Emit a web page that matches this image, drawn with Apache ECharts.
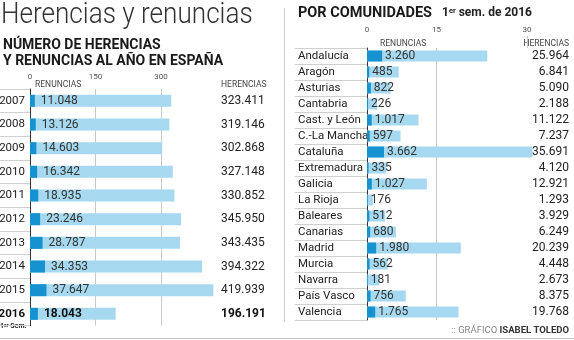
<!DOCTYPE html>
<html>
<head>
<meta charset="utf-8">
<script src="https://cdn.jsdelivr.net/npm/echarts@6/dist/echarts.min.js"></script>
<style>
  html, body { margin: 0; padding: 0; background: #fff; }
  #chart { width: 574px; height: 340px; }
</style>
</head>
<body>
<div id="chart"></div>
<script>
// Yearly totals for Spain
const years = ['2007', '2008', '2009', '2010', '2011', '2012', '2013', '2014', '2015', '2016'];
const renunciasYear = [11048, 13126, 14603, 16342, 18935, 23246, 28787, 34353, 37647, 18043];
const herenciasYear = [323411, 319146, 302868, 327148, 330852, 345950, 343435, 394322, 419939, 196191];
const yearTicks = [0, 150, 300];

// Regional figures, first half of 2016
const comunidades = ['Andalucía', 'Aragón', 'Asturias', 'Cantabria', 'Cast. y León', 'C.-La Mancha',
  'Cataluña', 'Extremadura', 'Galicia', 'La Rioja', 'Baleares', 'Canarias', 'Madrid', 'Murcia',
  'Navarra', 'País Vasco', 'Valencia'];
const renunciasCom = [3260, 485, 822, 226, 1017, 597, 3662, 335, 1027, 176, 512, 680, 1980, 562, 181, 756, 1765];
const herenciasCom = [25964, 6841, 5090, 2188, 11122, 7237, 35691, 4120, 12921, 1293, 3929, 6249, 20239, 4448, 2673, 8375, 19768];
const comTicks = [0, 15, 30];

const LIGHT = '#a6d9ef';
const DARK = '#1592cf';
const FONT = 'Roboto';
const fmt = n => String(n).replace(/\B(?=(\d{3})+(?!\d))/g, '.');
const lastYear = years.length - 1;

const chart = echarts.init(document.getElementById('chart'), null, { renderer: 'canvas' });

const option = {
  animation: false,
  textStyle: { fontFamily: FONT },
  grid: [
    { left: 30, top: 89, width: 196.5, height: 236.7, outerBoundsMode: 'none', containLabel: false },
    { left: 367, top: 48, width: 208.5, height: 272, outerBoundsMode: 'none', containLabel: false }
  ],
  xAxis: [
    {
      gridIndex: 0, type: 'value', position: 'top', min: 0, max: 450000, interval: 150000,
      axisLine: { show: false }, axisTick: { show: false },
      axisLabel: {
        margin: 8, fontSize: 8, color: '#555', fontFamily: FONT,
        formatter: v => yearTicks.includes(v / 1000) ? String(v / 1000) : ''
      },
      splitLine: { show: true, showMinLine: false, showMaxLine: false, lineStyle: { color: '#c9c9c9', width: 1 } }
    },
    {
      gridIndex: 1, type: 'value', position: 'top', min: 0, max: 45000, interval: 15000,
      axisLine: { show: false }, axisTick: { show: false },
      axisLabel: {
        margin: 14, fontSize: 8, color: '#555', fontFamily: FONT,
        formatter: v => {
          const k = v / 1000;
          if (!comTicks.includes(k)) return '';
          return k === 30 ? '{s|30}' : String(k);
        },
        rich: { s: { fontSize: 8, color: '#555', fontFamily: FONT, padding: [0, 0, 0, 42] } }
      },
      splitLine: { show: true, showMinLine: false, showMaxLine: false, lineStyle: { color: ['#c9c9c9', 'rgba(0,0,0,0)'], width: 1 } }
    }
  ],
  yAxis: [
    {
      gridIndex: 0, type: 'category', inverse: true, data: years,
      axisLine: { show: true, lineStyle: { color: '#333', width: 1 } },
      axisTick: { show: true, length: 30, lineStyle: { color: '#d0d0d0' } },
      axisLabel: {
        margin: 5, fontSize: 11.5, color: '#222', fontFamily: FONT,
        formatter: (v, i) => i === lastYear ? '{b|' + v + '}' : v,
        rich: { b: { fontSize: 11.5, fontWeight: 'bold', color: '#111', fontFamily: FONT } }
      }
    },
    {
      gridIndex: 0, type: 'category', inverse: true, position: 'right',
      data: herenciasYear.map(fmt),
      axisLine: { show: false }, axisTick: { show: false },
      axisLabel: {
        align: 'left', margin: -5.5, fontSize: 12, color: '#222', fontFamily: FONT,
        formatter: (v, i) => i === lastYear ? '{b|' + v + '}' : v,
        rich: { b: { fontSize: 12, fontWeight: 'bold', color: '#111', fontFamily: FONT } }
      }
    },
    {
      gridIndex: 1, type: 'category', inverse: true, data: comunidades,
      axisLine: { show: true, lineStyle: { color: '#333', width: 1 } },
      axisTick: { show: true, length: 72, lineStyle: { color: '#d0d0d0' } },
      axisLabel: { align: 'left', margin: 69, fontSize: 11.5, color: '#222', fontFamily: FONT }
    },
    {
      gridIndex: 1, type: 'category', inverse: true, position: 'right',
      data: herenciasCom.map(fmt),
      axisLine: { show: false }, axisTick: { show: false },
      axisLabel: { align: 'right', margin: -6.5, fontSize: 12, color: '#222', fontFamily: FONT }
    }
  ],
  series: [
    {
      type: 'bar', xAxisIndex: 0, yAxisIndex: 0, data: herenciasYear,
      barWidth: 12, barGap: '-100%', itemStyle: { color: LIGHT }, silent: true
    },
    {
      type: 'bar', xAxisIndex: 0, yAxisIndex: 0, barWidth: 12, barGap: '-100%',
      itemStyle: { color: DARK }, silent: true,
      data: renunciasYear.map((v, i) => i === lastYear
        ? { value: v, label: { fontWeight: 'bold', color: '#111' } }
        : v),
      label: {
        show: true, position: 'right', distance: 6, fontSize: 12, color: '#333', fontFamily: FONT,
        formatter: p => fmt(p.value)
      }
    },
    {
      type: 'bar', xAxisIndex: 1, yAxisIndex: 2, data: herenciasCom,
      barWidth: 11, barGap: '-100%', itemStyle: { color: LIGHT }, silent: true
    },
    {
      type: 'bar', xAxisIndex: 1, yAxisIndex: 2, data: renunciasCom,
      barWidth: 11, barGap: '-100%', itemStyle: { color: DARK }, silent: true,
      label: {
        show: true, position: 'right', distance: 3, fontSize: 12, color: '#333', fontFamily: FONT,
        formatter: p => fmt(p.value)
      }
    }
  ],
  graphic: [
    // headline and left subtitle
    { type: 'text', left: 1, top: 0, scaleX: 0.87,
      style: { text: 'Herencias y renuncias', font: '300 30px Roboto', fill: '#333' } },
    { type: 'text', left: 3, top: 37,
      style: { text: 'NÚMERO DE HERENCIAS\nY RENUNCIAS AL AÑO EN ESPAÑA', font: 'bold 14px Roboto', lineHeight: 16, fill: '#1a1a1a' } },
    { type: 'text', left: 35, top: 80,
      style: { text: 'RENUNCIAS', font: '8.5px Roboto', fill: '#444' } },
    { type: 'text', left: 221, top: 80,
      style: { text: 'HERENCIAS', font: '8.5px Roboto', fill: '#444' } },
    { type: 'text', left: 0, top: 323,
      style: {
        text: '{a|1}{b|er}{a| Sem.}',
        rich: {
          a: { fontSize: 7, fontWeight: 'bold', fontFamily: FONT, fill: '#222' },
          b: { fontSize: 5, fontWeight: 'bold', fontFamily: FONT, fill: '#222', verticalAlign: 'top' }
        }
      } },
    // panel separators
    { type: 'line', shape: { x1: 284.5, y1: 8, x2: 284.5, y2: 322 }, style: { stroke: '#cfcfcf', lineWidth: 1 } },
    { type: 'line', shape: { x1: 0, y1: 338.5, x2: 574, y2: 338.5 }, style: { stroke: '#c4c4c4', lineWidth: 1 } },
    // right panel headings
    { type: 'text', left: 298, top: 6,
      style: { text: 'POR COMUNIDADES', font: 'bold 14.5px Roboto', fill: '#1a1a1a' } },
    { type: 'text', left: 442, top: 7,
      style: {
        text: '{a|1}{b|er}{a| sem. de 2016}',
        rich: {
          a: { fontSize: 12, fontWeight: 'bold', fontFamily: FONT, fill: '#222' },
          b: { fontSize: 7.5, fontWeight: 'bold', fontFamily: FONT, fill: '#222', verticalAlign: 'top' }
        }
      } },
    { type: 'text', left: 380, top: 39,
      style: { text: 'RENUNCIAS', font: '8.5px Roboto', fill: '#444' } },
    { type: 'text', right: 5, top: 39,
      style: { text: 'HERENCIAS', font: '8.5px Roboto', fill: '#444' } },
    { type: 'line', shape: { x1: 527.5, y1: 36, x2: 527.5, y2: 48 }, style: { stroke: '#c9c9c9', lineWidth: 1 } },
    // credit
    { type: 'text', right: 5, top: 326,
      style: {
        text: '{g|:: GRÁFICO }{k|ISABEL TOLEDO}',
        rich: {
          g: { fontSize: 9.5, fontFamily: FONT, fill: '#888' },
          k: { fontSize: 9.5, fontWeight: 'bold', fontFamily: FONT, fill: '#333' }
        }
      } }
  ]
};

chart.setOption(option);
</script>
</body>
</html>
